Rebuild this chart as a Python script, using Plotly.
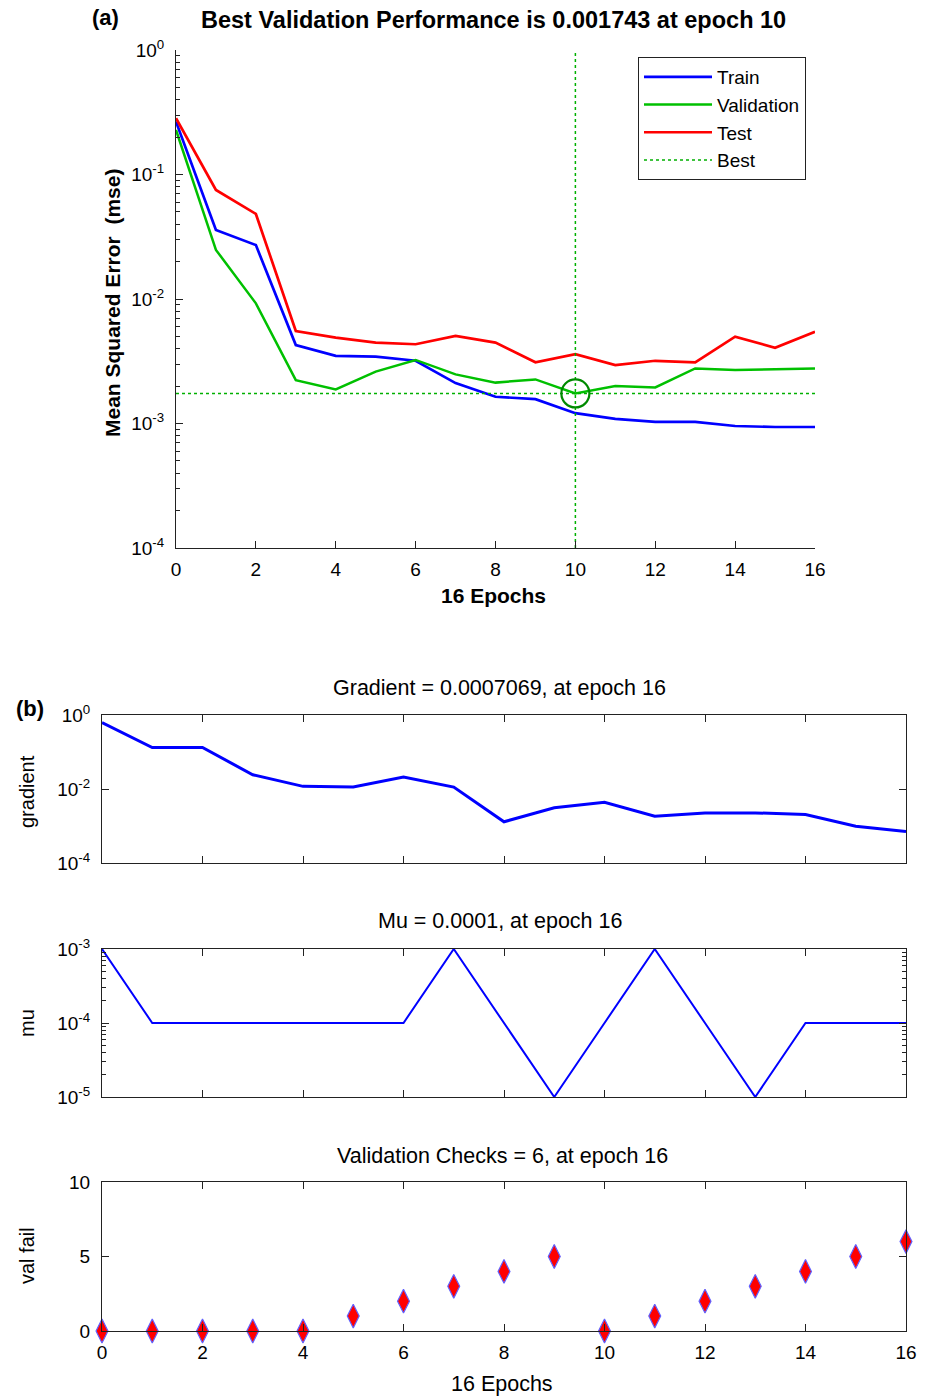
import plotly.graph_objects as go

# ---------------- data ----------------
epochs = list(range(17))
train_mse = [0.266, 0.0358, 0.0271, 0.00427, 0.00349, 0.00344, 0.00319, 0.00211, 0.00164,
             0.00157, 0.00121, 0.00109, 0.00103, 0.00103, 0.000955, 0.000937, 0.000937]
val_mse = [0.228, 0.0248, 0.00923, 0.00223, 0.00188, 0.00261, 0.00324, 0.00248, 0.00213,
           0.00226, 0.001743, 0.00200, 0.00195, 0.00277, 0.00269, 0.00274, 0.00277]
test_mse = [0.283, 0.0751, 0.0482, 0.00553, 0.00489, 0.00446, 0.00433, 0.00505, 0.00446,
            0.00310, 0.00360, 0.00295, 0.00319, 0.00310, 0.00498, 0.00406, 0.00546]
best_epoch = 10
best_val = 0.001743

gradient = [0.62, 0.132, 0.132, 0.0243, 0.0118, 0.0113, 0.021, 0.0113, 0.0013,
            0.0031, 0.00438, 0.00184, 0.00226, 0.00226, 0.00204, 0.00099, 0.0007069]
mu = [1e-3, 1e-4, 1e-4, 1e-4, 1e-4, 1e-4, 1e-4, 1e-3, 1e-4,
      1e-5, 1e-4, 1e-3, 1e-4, 1e-5, 1e-4, 1e-4, 1e-4]
val_fail = [0, 0, 0, 0, 0, 1, 2, 3, 4, 5, 0, 1, 2, 3, 4, 5, 6]

x_ticks = list(range(0, 17, 2))
mse_ticks = [1e-4, 1e-3, 1e-2, 1e-1, 1]
mse_ticktext = ["10<sup>-4</sup>", "10<sup>-3</sup>", "10<sup>-2</sup>", "10<sup>-1</sup>", "10<sup>0</sup>"]
grad_ticks = [1e-4, 1e-2, 1]
grad_ticktext = ["10<sup>-4</sup>", "10<sup>-2</sup>", "10<sup>0</sup>"]
mu_ticks = [1e-5, 1e-4, 1e-3]
mu_ticktext = ["10<sup>-5</sup>", "10<sup>-4</sup>", "10<sup>-3</sup>"]
vf_ticks = [0, 5, 10]

# ---------------- layout helpers ----------------
W, H = 930, 1397
FONT = "Liberation Sans, Arial, Helvetica, sans-serif"


def px(x):
    return x / W


def py(y):
    return 1 - y / H


def minor_vals(lo, hi):
    vals = []
    for e in range(lo, hi):
        for m in range(2, 10):
            vals.append(m * 10.0 ** e)
    return vals


fig = go.Figure()

# ---------------- panel (a) ----------------
fig.add_trace(go.Scatter(x=epochs, y=train_mse, mode="lines", name="Train",
                         line=dict(color="#0000ff", width=2.7), xaxis="x", yaxis="y"))
fig.add_trace(go.Scatter(x=epochs, y=val_mse, mode="lines", name="Validation",
                         line=dict(color="#00c000", width=2.5), xaxis="x", yaxis="y"))
fig.add_trace(go.Scatter(x=epochs, y=test_mse, mode="lines", name="Test",
                         line=dict(color="#ff0000", width=2.7), xaxis="x", yaxis="y"))
fig.add_trace(go.Scatter(x=[epochs[0], epochs[-1]], y=[best_val, best_val], mode="lines", name="Best",
                         line=dict(color="#00b000", width=1.5, dash="3px,3px"), xaxis="x", yaxis="y"))
fig.add_trace(go.Scatter(x=[best_epoch, best_epoch], y=[mse_ticks[0], mse_ticks[-1]], mode="lines",
                         showlegend=False, line=dict(color="#00b000", width=1.5, dash="3px,3px"),
                         xaxis="x", yaxis="y"))
fig.add_trace(go.Scatter(x=[best_epoch], y=[best_val], mode="markers", showlegend=False,
                         marker=dict(symbol="circle-open", size=28, color="#008a00",
                                     line=dict(width=2.2, color="#008a00")),
                         xaxis="x", yaxis="y"))

# ---------------- panel (b) ----------------
fig.add_trace(go.Scatter(x=epochs, y=gradient, mode="lines", showlegend=False,
                         line=dict(color="#0000ff", width=3), xaxis="x2", yaxis="y2"))
fig.add_trace(go.Scatter(x=epochs, y=mu, mode="lines", showlegend=False,
                         line=dict(color="#0000ff", width=2), xaxis="x3", yaxis="y3"))
fig.add_trace(go.Scatter(x=epochs, y=val_fail, mode="markers", showlegend=False, cliponaxis=False,
                         marker=dict(symbol="diamond-tall", size=17, color="#ff0000",
                                     line=dict(color="#6060ff", width=1.2)),
                         xaxis="x4", yaxis="y4"))

axis_common = dict(showgrid=False, zeroline=False, showline=True, linecolor="#222222", linewidth=1,
                   automargin=False,
                   ticks="inside", tickcolor="#222222", tickfont=dict(family=FONT, size=19, color="black"))

xa_dom = [px(176), px(815)]
xb_dom = [px(102), px(906)]

fig.update_layout(
    width=W, height=H,
    margin=dict(l=0, r=0, t=0, b=0, autoexpand=False),
    paper_bgcolor="white", plot_bgcolor="white",
    font=dict(family=FONT, color="black"),
    showlegend=True,
    legend=dict(x=px(806), y=py(57), xanchor="right", yanchor="top",
                bordercolor="#222222", borderwidth=1, bgcolor="white",
                font=dict(family=FONT, size=19, color="black"), itemwidth=68,
                tracegroupgap=0),
    xaxis=dict(domain=xa_dom, anchor="y", range=[0, 16], tickvals=x_ticks, ticklen=7,
               ticklabelstandoff=4, **axis_common),
    yaxis=dict(domain=[py(548), py(50)], anchor="x", type="log", range=[-4, 0],
               tickvals=mse_ticks, ticktext=mse_ticktext, ticklen=7, ticklabelstandoff=7,
               minor=dict(tickvals=minor_vals(-4, 0), ticks="inside", ticklen=4, tickcolor="#222222"),
               **axis_common),
    xaxis2=dict(domain=xb_dom, anchor="y2", range=[0, 16], tickvals=x_ticks, ticklen=7,
                showticklabels=False, mirror="ticks", **axis_common),
    yaxis2=dict(domain=[py(863), py(715)], anchor="x2", type="log", range=[-4, 0],
                tickvals=grad_ticks, ticktext=grad_ticktext, ticklen=7, ticklabelstandoff=7,
                mirror="ticks", **axis_common),
    xaxis3=dict(domain=xb_dom, anchor="y3", range=[0, 16], tickvals=x_ticks, ticklen=7,
                showticklabels=False, mirror="ticks", **axis_common),
    yaxis3=dict(domain=[py(1097), py(949)], anchor="x3", type="log", range=[-5, -3],
                tickvals=mu_ticks, ticktext=mu_ticktext, ticklen=7, ticklabelstandoff=7, mirror="ticks",
                minor=dict(tickvals=minor_vals(-5, -3), ticks="inside", ticklen=4, tickcolor="#222222"),
                **axis_common),
    xaxis4=dict(domain=xb_dom, anchor="y4", range=[0, 16], tickvals=x_ticks, ticklen=7,
                mirror="ticks", ticklabelstandoff=4, **axis_common),
    yaxis4=dict(domain=[py(1331), py(1182)], anchor="x4", range=[0, 10],
                tickvals=vf_ticks, ticklen=7, ticklabelstandoff=7, mirror="ticks", **axis_common),
)


def ann(text, x, y, size, bold=False, angle=0, xanchor="center"):
    t = f"<b>{text}</b>" if bold else text
    fig.add_annotation(text=t, x=px(x), y=py(y), xref="paper", yref="paper", showarrow=False,
                       xanchor=xanchor, yanchor="middle", textangle=angle,
                       font=dict(family=FONT, size=size, color="black"))


ann("Best Validation Performance is 0.001743 at epoch 10", 493, 20, 23.5, bold=True)
ann("(a)", 105, 18, 22, bold=True)
ann("16 Epochs", 494, 595, 21, bold=True)
ann("Mean Squared Error  (mse)", 112, 303, 21, bold=True, angle=-90)
ann("(b)", 30, 708, 22, bold=True)
ann("Gradient = 0.0007069, at epoch 16", 500, 688, 21.5)
ann("gradient", 27, 792, 20, angle=-90)
ann("Mu = 0.0001, at epoch 16", 500, 921, 21.5)
ann("mu", 27, 1023, 20, angle=-90)
ann("Validation Checks = 6, at epoch 16", 502, 1156, 21.5)
ann("val fail", 27, 1256, 20, angle=-90)
ann("16 Epochs", 502, 1384, 21.5)

fig.write_html("out.html", config={"displayModeBar": False},
               post_script="document.body.style.margin='0';document.body.style.overflow='hidden';")
